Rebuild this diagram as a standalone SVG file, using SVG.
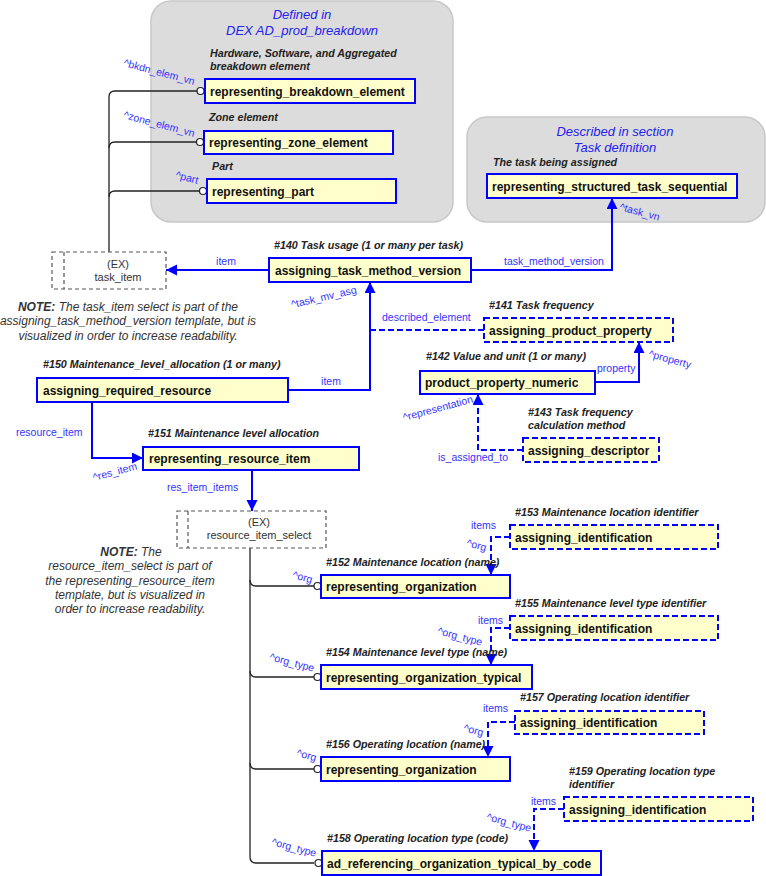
<svg xmlns="http://www.w3.org/2000/svg" width="766" height="876" viewBox="0 0 766 876">
<style>
.bg{fill:#dcdcdc;stroke:#c8c8c8;stroke-width:1.5}
.box{fill:#ffffcc;stroke:#0000ff;stroke-width:2}
.dbox{fill:#ffffcc;stroke:#0000ff;stroke-width:2;stroke-dasharray:6 3}
.ex{fill:#ffffff;stroke:#555;stroke-width:1.2;stroke-dasharray:4 3}
.bt{font-family:"Liberation Sans",Arial,sans-serif;font-weight:bold;font-size:12px;fill:#111}
.cap{font-family:"Liberation Sans",Arial,sans-serif;font-weight:bold;font-style:italic;font-size:10.7px;fill:#222}
.ttl{font-family:"Liberation Sans",Arial,sans-serif;font-style:italic;font-size:13px;fill:#2222ee;text-anchor:middle}
.lbl{font-family:"Liberation Sans",Arial,sans-serif;font-size:10.5px;fill:#3333ff}
.ext{font-family:"Liberation Sans",Arial,sans-serif;font-size:11px;fill:#333;text-anchor:middle}
.note{font-family:"Liberation Sans",Arial,sans-serif;font-style:italic;font-size:12px;fill:#333;text-anchor:middle}
.c{fill:none;stroke:#0000ff;stroke-width:2}
.cd{fill:none;stroke:#0000ff;stroke-width:2;stroke-dasharray:6 3}
.k{fill:none;stroke:#222;stroke-width:1.3}
.o{fill:#fff;stroke:#222;stroke-width:1.2}
</style>
<defs>
<marker id="ah" markerUnits="userSpaceOnUse" markerWidth="12" markerHeight="12" refX="11" refY="5.5" orient="auto">
<path d="M0,0 L11,5.5 L0,11 z" fill="#0000ff"/>
</marker>
</defs>

<g id="region-breakdown">
<rect class="bg" x="151" y="1" width="302" height="221" rx="20"/>
<text class="ttl" x="302" y="19">Defined in</text>
<text class="ttl" x="302" y="35">DEX AD_prod_breakdown</text>
</g>
<g id="region-task">
<rect class="bg" x="467" y="117" width="298" height="105" rx="20"/>
<text class="ttl" x="615" y="136">Described in section</text>
<text class="ttl" x="615" y="152">Task definition</text>
</g>

<g id="connectors">
<path class="k" d="M197 91 H115 Q109 91 109 97 V252"/>
<path class="k" d="M196 142 H115 Q109 142 109 148"/>
<path class="k" d="M199 191 H115 Q109 191 109 197"/>
<circle class="o" cx="200.5" cy="91" r="3.5"/>
<circle class="o" cx="200" cy="142" r="3.5"/>
<circle class="o" cx="203" cy="191" r="3.5"/>

<path class="k" d="M250 548 V857 Q250 863 256 863 H314"/>
<path class="k" d="M250 580 Q250 586 256 586 H314"/>
<path class="k" d="M250 671 Q250 677 256 677 H314"/>
<path class="k" d="M250 763 Q250 769 256 769 H314"/>
<circle class="o" cx="317.5" cy="586" r="3.5"/>
<circle class="o" cx="317.5" cy="677" r="3.5"/>
<circle class="o" cx="317.5" cy="769" r="3.5"/>
<circle class="o" cx="318.5" cy="863" r="3.5"/>

<path class="c" d="M269 270 H166" marker-end="url(#ah)"/>
<path class="c" d="M471 270 H612 V198" marker-end="url(#ah)"/>
<path class="c" d="M288 390 H370 V282" marker-end="url(#ah)"/>
<path class="cd" d="M484 330 H370"/>
<path class="c" d="M595 382 H639 V342" marker-end="url(#ah)"/>
<path class="cd" d="M523 450 H478 V394" marker-end="url(#ah)"/>
<path class="c" d="M92 402 V458 H143" marker-end="url(#ah)"/>
<path class="c" d="M252 470 V511" marker-end="url(#ah)"/>
<path class="cd" d="M510 537 H491 V575" marker-end="url(#ah)"/>
<path class="cd" d="M510 628 H491 V665" marker-end="url(#ah)"/>
<path class="cd" d="M515 722 H488 V757" marker-end="url(#ah)"/>
<path class="cd" d="M564 809 H534 V851" marker-end="url(#ah)"/>

<text class="lbl" transform="translate(123,66) rotate(15)">^bkdn_elem_vn</text>
<text class="lbl" transform="translate(123,118) rotate(15)">^zone_elem_vn</text>
<text class="lbl" transform="translate(175,178) rotate(15)">^part</text>
<text class="lbl" transform="translate(619,210) rotate(15)">^task_vn</text>
<text class="lbl" transform="translate(292,308) rotate(-13)">^task_mv_asg</text>
<text class="lbl" transform="translate(648,357) rotate(15)">^property</text>
<text class="lbl" transform="translate(404,421) rotate(-15)">^representation</text>
<text class="lbl" transform="translate(94,481) rotate(-15)">^res_item</text>
<text class="lbl" transform="translate(292,578) rotate(15)">^org</text>
<text class="lbl" transform="translate(269,660) rotate(15)">^org_type</text>
<text class="lbl" transform="translate(296,756) rotate(15)">^org</text>
<text class="lbl" transform="translate(271,845) rotate(15)">^org_type</text>
<text class="lbl" transform="translate(466,546) rotate(15)">^org</text>
<text class="lbl" transform="translate(437,634) rotate(15)">^org_type</text>
<text class="lbl" transform="translate(463,731) rotate(15)">^org</text>
<text class="lbl" transform="translate(486,820) rotate(15)">^org_type</text>

<text class="lbl" x="226" y="265" text-anchor="middle">item</text>
<text class="lbl" x="504" y="265">task_method_version</text>
<text class="lbl" x="382" y="321">described_element</text>
<text class="lbl" x="331" y="385" text-anchor="middle">item</text>
<text class="lbl" x="597" y="372">property</text>
<text class="lbl" x="438" y="461">is_assigned_to</text>
<text class="lbl" x="16" y="436">resource_item</text>
<text class="lbl" x="167" y="491">res_item_items</text>
<text class="lbl" x="471" y="529">items</text>
<text class="lbl" x="478" y="624">items</text>
<text class="lbl" x="483" y="712">items</text>
<text class="lbl" x="531" y="805">items</text>
</g>

<g id="n-breakdown">
<text class="cap" x="210" y="57">Hardware, Software, and Aggregated</text>
<text class="cap" x="210" y="70">breakdown element</text>
<rect class="box" x="205" y="79" width="210" height="24"/>
<text class="bt" x="210" y="95.5">representing_breakdown_element</text>
</g>
<g id="n-zone">
<text class="cap" x="209" y="121">Zone element</text>
<rect class="box" x="204" y="131" width="189" height="23"/>
<text class="bt" x="209" y="147">representing_zone_element</text>
</g>
<g id="n-part">
<text class="cap" x="212" y="170">Part</text>
<rect class="box" x="207" y="179" width="189" height="24"/>
<text class="bt" x="212" y="195.5">representing_part</text>
</g>
<g id="n-task">
<text class="cap" x="493" y="166">The task being assigned</text>
<rect class="box" x="487" y="174" width="250" height="24"/>
<text class="bt" x="492" y="190.5">representing_structured_task_sequential</text>
</g>
<g id="n-task-item">
<rect class="ex" x="52" y="252" width="114" height="37"/>
<line class="ex" x1="64" y1="252" x2="64" y2="289"/>
<text class="ext" x="118" y="268">(EX)</text>
<text class="ext" x="118" y="281">task_item</text>
</g>
<g id="note1">
<text class="note" x="128" y="311"><tspan font-weight="bold">NOTE:</tspan> The task_item select is part of the</text>
<text class="note" x="128" y="325">assigning_task_method_version template, but is</text>
<text class="note" x="128" y="340">visualized in order to increase readability.</text>
</g>
<g id="n140">
<text class="cap" x="274" y="249">#140 Task usage (1 or many per task)</text>
<rect class="box" x="269" y="258" width="202" height="24"/>
<text class="bt" x="275" y="274.5">assigning_task_method_version</text>
</g>
<g id="n141">
<text class="cap" x="489" y="309">#141 Task frequency</text>
<rect class="dbox" x="484" y="318" width="189" height="24"/>
<text class="bt" x="489" y="334.5">assigning_product_property</text>
</g>
<g id="n142">
<text class="cap" x="426" y="360">#142 Value and unit (1 or many)</text>
<rect class="box" x="420" y="371" width="175" height="23"/>
<text class="bt" x="425" y="387">product_property_numeric</text>
</g>
<g id="n143">
<text class="cap" x="528" y="416">#143 Task frequency</text>
<text class="cap" x="528" y="429">calculation method</text>
<rect class="dbox" x="523" y="438" width="136" height="24"/>
<text class="bt" x="528" y="454.5">assigning_descriptor</text>
</g>
<g id="n150">
<text class="cap" x="43" y="368">#150 Maintenance_level_allocation (1 or many)</text>
<rect class="box" x="37" y="378" width="251" height="24"/>
<text class="bt" x="43" y="394.5">assigning_required_resource</text>
</g>
<g id="n151">
<text class="cap" x="148" y="437">#151 Maintenance level allocation</text>
<rect class="box" x="143" y="447" width="216" height="23"/>
<text class="bt" x="149" y="463">representing_resource_item</text>
</g>
<g id="n-resource-item-select">
<rect class="ex" x="177" y="511" width="149" height="37"/>
<line class="ex" x1="188" y1="511" x2="188" y2="548"/>
<text class="ext" x="259" y="526">(EX)</text>
<text class="ext" x="259" y="539">resource_item_select</text>
</g>
<g id="note2">
<text class="note" x="131" y="556"><tspan font-weight="bold">NOTE:</tspan> The</text>
<text class="note" x="130" y="570">resource_item_select is part of</text>
<text class="note" x="130" y="585">the representing_resource_item</text>
<text class="note" x="130" y="599">template, but is visualized in</text>
<text class="note" x="130" y="613">order to increase readability.</text>
</g>
<g id="n152">
<text class="cap" x="326" y="566">#152 Maintenance location (name)</text>
<rect class="box" x="321" y="575" width="189" height="23"/>
<text class="bt" x="326" y="591">representing_organization</text>
</g>
<g id="n153">
<text class="cap" x="515" y="516">#153 Maintenance location identifier</text>
<rect class="dbox" x="510" y="525" width="208" height="24"/>
<text class="bt" x="515" y="541.5">assigning_identification</text>
</g>
<g id="n154">
<text class="cap" x="326" y="656">#154 Maintenance level type (name)</text>
<rect class="box" x="321" y="665" width="211" height="24"/>
<text class="bt" x="326" y="681.5">representing_organization_typical</text>
</g>
<g id="n155">
<text class="cap" x="515" y="607">#155 Maintenance level type identifier</text>
<rect class="dbox" x="510" y="616" width="208" height="24"/>
<text class="bt" x="515" y="632.5">assigning_identification</text>
</g>
<g id="n156">
<text class="cap" x="326" y="748">#156 Operating location (name)</text>
<rect class="box" x="321" y="757" width="189" height="24"/>
<text class="bt" x="326" y="773.5">representing_organization</text>
</g>
<g id="n157">
<text class="cap" x="520" y="701">#157 Operating location identifier</text>
<rect class="dbox" x="515" y="711" width="189" height="23"/>
<text class="bt" x="520" y="727">assigning_identification</text>
</g>
<g id="n158">
<text class="cap" x="327" y="842">#158 Operating location type (code)</text>
<rect class="box" x="322" y="851" width="279" height="24"/>
<text class="bt" x="327" y="867.5">ad_referencing_organization_typical_by_code</text>
</g>
<g id="n159">
<text class="cap" x="569" y="775">#159 Operating location type</text>
<text class="cap" x="569" y="788">identifier</text>
<rect class="dbox" x="564" y="797" width="189" height="24"/>
<text class="bt" x="569" y="813.5">assigning_identification</text>
</g>
</svg>
